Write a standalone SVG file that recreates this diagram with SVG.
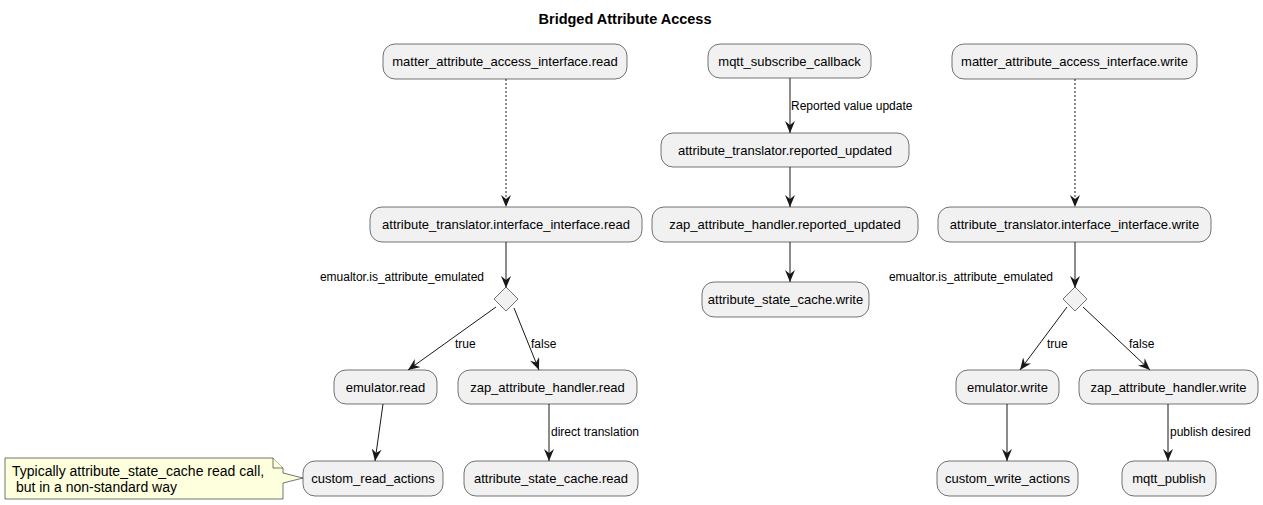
<svg xmlns="http://www.w3.org/2000/svg" width="1263" height="505" viewBox="0 0 1263 505">
<defs>
<style>
.n rect{fill:#F1F1F1;stroke:#181818;stroke-width:0.6}
.n text{font-family:"Liberation Sans",Arial,sans-serif;font-size:13px;fill:#000;text-anchor:middle}
.d{fill:#F1F1F1;stroke:#181818;stroke-width:0.6}
.c line,.c polyline{stroke:#181818;stroke-width:1;fill:none}
.c .dot{stroke-dasharray:2,2}
.lbl{font-family:"Liberation Sans",Arial,sans-serif;font-size:12px;fill:#000}
.title{font-family:"Liberation Sans",Arial,sans-serif;font-size:14.5px;font-weight:bold;fill:#000;text-anchor:middle}
.note{fill:#FEFFDD;stroke:#181818;stroke-width:0.6}
.notet{font-family:"Liberation Sans",Arial,sans-serif;font-size:14px;fill:#000}
</style>
<marker id="ah" viewBox="0 0 12 10" refX="12" refY="5" markerWidth="12" markerHeight="10" markerUnits="userSpaceOnUse" orient="auto">
<polygon points="0,0 12,5 0,10 4,5" fill="#181818"/>
</marker>
</defs>
<rect width="1263" height="505" fill="#FFFFFF"/>
<text class="title" x="625" y="24">Bridged Attribute Access</text>

<g class="c" id="connectors">
<line class="dot" x1="506" y1="79" x2="506" y2="207" marker-end="url(#ah)"/>
<line x1="506" y1="242" x2="506" y2="288" marker-end="url(#ah)"/>
<line x1="496" y1="307" x2="408" y2="370" marker-end="url(#ah)"/>
<line x1="514" y1="308" x2="539" y2="370" marker-end="url(#ah)"/>
<line x1="383" y1="404" x2="375" y2="461" marker-end="url(#ah)"/>
<line x1="549" y1="404" x2="549" y2="461" marker-end="url(#ah)"/>
<line x1="790" y1="78" x2="790" y2="133" marker-end="url(#ah)"/>
<line x1="790" y1="167" x2="790" y2="207" marker-end="url(#ah)"/>
<line x1="790" y1="242" x2="790" y2="282" marker-end="url(#ah)"/>
<line class="dot" x1="1075" y1="79" x2="1075" y2="207" marker-end="url(#ah)"/>
<line x1="1075" y1="242" x2="1075" y2="288" marker-end="url(#ah)"/>
<line x1="1067" y1="307" x2="1020" y2="370" marker-end="url(#ah)"/>
<line x1="1083" y1="307" x2="1150" y2="370" marker-end="url(#ah)"/>
<line x1="1007" y1="404" x2="1007" y2="461" marker-end="url(#ah)"/>
<line x1="1168" y1="404" x2="1168" y2="461" marker-end="url(#ah)"/>
<text class="lbl" x="791" y="110">Reported value update</text>
<text class="lbl" x="484" y="281" text-anchor="end">emualtor.is_attribute_emulated</text>
<text class="lbl" x="455" y="348">true</text>
<text class="lbl" x="531" y="348">false</text>
<text class="lbl" x="551" y="436">direct translation</text>
<text class="lbl" x="1053" y="281" text-anchor="end">emualtor.is_attribute_emulated</text>
<text class="lbl" x="1047" y="348">true</text>
<text class="lbl" x="1129" y="348">false</text>
<text class="lbl" x="1170" y="436">publish desired</text>
</g>

<g class="n" id="read_iface"><rect x="383" y="44" width="244" height="35" rx="12"/><text x="505" y="66">matter_attribute_access_interface.read</text></g>
<g class="n" id="mqtt_sub"><rect x="708" y="44" width="163" height="34" rx="12"/><text x="789.5" y="66">mqtt_subscribe_callback</text></g>
<g class="n" id="write_iface"><rect x="952" y="44" width="245" height="35" rx="12"/><text x="1074.5" y="66">matter_attribute_access_interface.write</text></g>
<g class="n" id="at_read"><rect x="370" y="207" width="272" height="35" rx="12"/><text x="506" y="229">attribute_translator.interface_interface.read</text></g>
<g class="n" id="at_reported"><rect x="661" y="133" width="248" height="34" rx="12"/><text x="785" y="155">attribute_translator.reported_updated</text></g>
<g class="n" id="zap_reported"><rect x="652" y="207" width="266" height="35" rx="12"/><text x="785" y="229">zap_attribute_handler.reported_updated</text></g>
<g class="n" id="cache_write"><rect x="702" y="282" width="167" height="35" rx="12"/><text x="785.5" y="304">attribute_state_cache.write</text></g>
<g class="n" id="at_write"><rect x="938" y="207" width="273" height="35" rx="12"/><text x="1074.5" y="229">attribute_translator.interface_interface.write</text></g>
<g id="dec_read"><polygon class="d" points="506,287 518,299 506,311 494,299"/></g>
<g id="dec_write"><polygon class="d" points="1075,287 1087,299 1075,311 1063,299"/></g>
<g class="n" id="emu_read"><rect x="334" y="370" width="103" height="34" rx="12"/><text x="385.5" y="392">emulator.read</text></g>
<g class="n" id="zap_read"><rect x="458" y="370" width="179" height="34" rx="12"/><text x="547.5" y="392">zap_attribute_handler.read</text></g>
<g class="n" id="custom_read"><rect x="303" y="461" width="140" height="35" rx="12"/><text x="373" y="483">custom_read_actions</text></g>
<g class="n" id="cache_read"><rect x="464" y="461" width="174" height="35" rx="12"/><text x="551" y="483">attribute_state_cache.read</text></g>
<g class="n" id="emu_write"><rect x="956" y="370" width="103" height="34" rx="12"/><text x="1007.5" y="392">emulator.write</text></g>
<g class="n" id="zap_write"><rect x="1079" y="370" width="179" height="34" rx="12"/><text x="1168.5" y="392">zap_attribute_handler.write</text></g>
<g class="n" id="custom_write"><rect x="937" y="461" width="141" height="35" rx="12"/><text x="1007.5" y="483">custom_write_actions</text></g>
<g class="n" id="mqtt_pub"><rect x="1122" y="461" width="94" height="35" rx="12"/><text x="1169" y="483">mqtt_publish</text></g>

<g id="note">
<path class="note" d="M5,458 L273,458 L283,468 L283,473 L303,478 L283,483 L283,499 L5,499 Z"/>
<path class="note" d="M273,458 L273,468 L283,468"/>
<text class="notet" x="12" y="476">Typically attribute_state_cache read call,</text>
<text class="notet" x="12" y="492" xml:space="preserve"> but in a non-standard way</text>
</g>
</svg>
